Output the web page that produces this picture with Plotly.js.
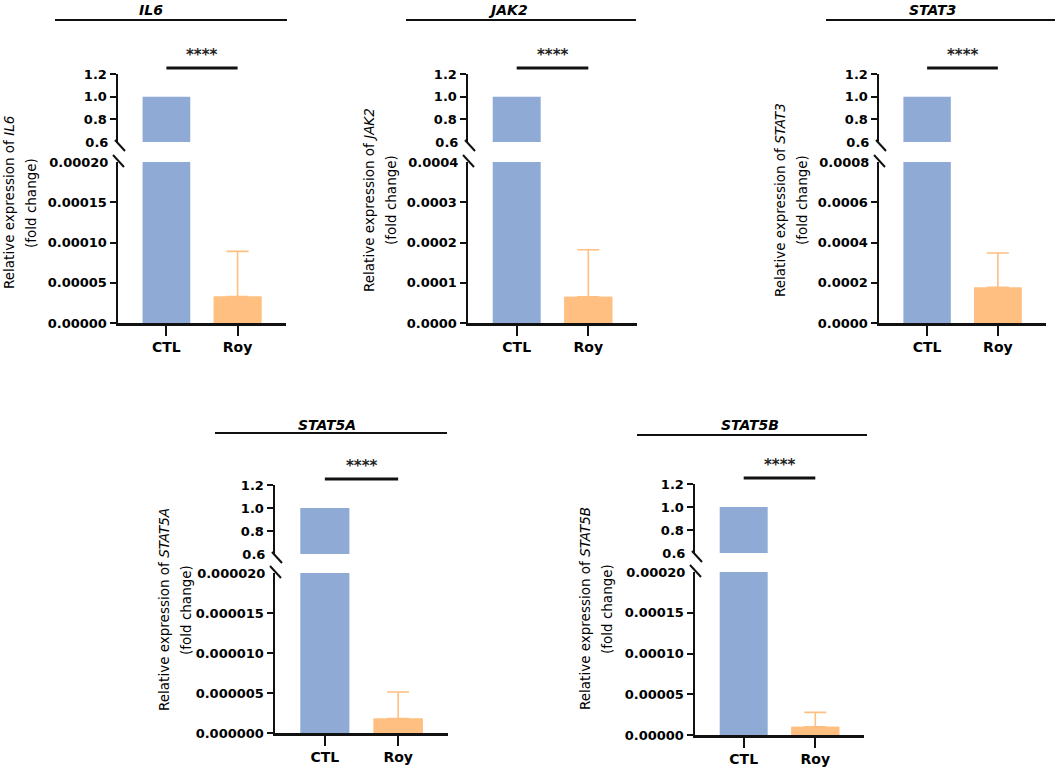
<!DOCTYPE html>
<html>
<head>
<meta charset="utf-8">
<script src="https://cdn.plot.ly/plotly-3.0.1.min.js"></script>
<style>html,body{margin:0;padding:0;background:#fff;}#chart{width:1059px;height:771px;}</style>
</head>
<body>
<div id="chart"></div>
<script>
// ---- data ----
const genes = ['IL6', 'JAK2', 'STAT3', 'STAT5A', 'STAT5B'];
const groups = ['CTL', 'Roy'];
const ctlMean = [1, 1, 1, 1, 1];
const royMean = [0.000033, 0.000065, 0.000177, 0.00000182, 0.0000102];
const royErr = [0.000056, 0.000117, 0.000171, 0.0000033, 0.0000175];
const lowMax = [0.0002, 0.0004, 0.0008, 0.00002, 0.0002];
const lowStep = [0.00005, 0.0001, 0.0002, 0.000005, 0.00005];
const lowFormat = ['.5f', '.4f', '.4f', '.6f', '.5f'];
const highTicks = [0.8, 1.0, 1.2];
const highRange = [0.6, 1.2];
const sigText = ['****', '****', '****', '****', '****'];

// ---- layout geometry (pixels) ----
const W = 1059, H = 771;
const px = v => v / W;
const py = v => 1 - v / H;
const geom = [
  {xl:118, xr:286, t:74,  m1:142, m2:162, b:323, lab:20,  labY:203, tx:151, ty:10,  l0:55,  l1:287,  ly:20},
  {xl:468, xr:637, t:74,  m1:142, m2:162, b:323, lab:380, labY:200, tx:508, ty:10,  l0:406, l1:636,  ly:20},
  {xl:879, xr:1046,t:74,  m1:142, m2:162, b:323, lab:791, labY:200, tx:932, ty:10,  l0:826, l1:1055, ly:20},
  {xl:275, xr:448, t:485, m1:554, m2:573, b:733, lab:175, labY:610, tx:327, ty:425, l0:215, l1:447,  ly:433},
  {xl:695, xr:864, t:484, m1:553, m2:572, b:735, lab:596, labY:609, tx:750, ty:425, l0:637, l1:867,  ly:435}
];

const BLUE = 'rgb(143,170,212)';
const ORANGE = 'rgb(254,191,128)';
const tickFont = {family: 'DejaVu Sans', size: 13, color: '#000', weight: 'bold'};
const catFont = {family: 'DejaVu Sans', size: 14, color: '#000', weight: 'bold'};

const axId = (p, n) => n === 1 ? p : p + n;
const axKey = (p, n) => p + 'axis' + (n === 1 ? '' : n);

const data = [];
const layout = {
  width: W, height: H,
  margin: {l: 0, r: 0, t: 0, b: 0},
  paper_bgcolor: '#fff', plot_bgcolor: 'rgba(0,0,0,0)',
  showlegend: false,
  barmode: 'overlay',
  shapes: [], annotations: []
};

genes.forEach((g, i) => {
  const G = geom[i];
  const xn = i + 1;
  const yLow = 4 * i + 1, yHigh = 4 * i + 2, yLowLab = 4 * i + 3, yHighLab = 4 * i + 4;
  const xid = axId('x', xn);
  const xDom = [px(G.xl), px(G.xr)];
  const lowDom = [py(G.b), py(G.m2)];
  const highDom = [py(G.m1), py(G.t)];

  layout[axKey('x', xn)] = {
    domain: xDom, anchor: axId('y', yLow), type: 'category',
    categoryorder: 'array', categoryarray: groups,
    range: [-0.68, 1.68], showline: true, linewidth: 2.5, linecolor: '#111',
    ticks: 'outside', ticklen: 10, tickwidth: 2, tickcolor: '#111',
    showgrid: false, zeroline: false, tickfont: catFont, fixedrange: true
  };
  const yCommon = {
    anchor: xid, side: 'left', showgrid: false, zeroline: false,
    ticks: 'outside', ticklen: 6, tickwidth: 2, fixedrange: true, tickfont: tickFont
  };
  const lowTickVals = [];
  for (let k = 0; k * lowStep[i] < lowMax[i] * 0.999; k++) lowTickVals.push(k * lowStep[i]);
  layout[axKey('y', yLow)] = Object.assign({}, yCommon, {
    domain: lowDom, range: [0, lowMax[i]], tickmode: 'array', tickvals: lowTickVals,
    tickformat: lowFormat[i], showline: true, linewidth: 2.5, linecolor: '#111', tickcolor: '#111'
  });
  // label at the break (max of lower segment), tick hidden
  layout[axKey('y', yLowLab)] = Object.assign({}, yCommon, {
    overlaying: axId('y', yLow), range: [0, lowMax[i]], tickmode: 'array', tickvals: [lowMax[i]],
    tickformat: lowFormat[i], showline: false, tickcolor: 'rgba(0,0,0,0)'
  });
  layout[axKey('y', yHigh)] = Object.assign({}, yCommon, {
    domain: highDom, range: highRange, tickmode: 'array', tickvals: highTicks,
    tickformat: '.1f', showline: true, linewidth: 2.5, linecolor: '#111', tickcolor: '#111'
  });
  layout[axKey('y', yHighLab)] = Object.assign({}, yCommon, {
    overlaying: axId('y', yHigh), range: highRange, tickmode: 'array', tickvals: [highRange[0]],
    tickformat: '.1f', showline: false, tickcolor: 'rgba(0,0,0,0)'
  });

  // bars: lower segment
  data.push({type: 'bar', x: [groups[0]], y: [ctlMean[i]], xaxis: xid, yaxis: axId('y', yLow),
    width: 0.67, marker: {color: BLUE, line: {width: 0}}, hoverinfo: 'skip'});
  data.push({type: 'bar', x: [groups[1]], y: [royMean[i]], xaxis: xid, yaxis: axId('y', yLow),
    width: 0.67, marker: {color: ORANGE, line: {width: 0}}, hoverinfo: 'skip',
    error_y: {type: 'data', symmetric: false, array: [royErr[i]], arrayminus: [0],
      color: ORANGE, thickness: 1.6, width: 11}});
  // same bar drawn again on top to hide the lower error cap
  data.push({type: 'bar', x: [groups[1]], y: [royMean[i]], xaxis: xid, yaxis: axId('y', yLow),
    width: 0.67, marker: {color: ORANGE, line: {width: 0}}, hoverinfo: 'skip'});
  // bars: upper segment
  data.push({type: 'bar', x: [groups[0]], y: [ctlMean[i]], xaxis: xid, yaxis: axId('y', yHigh),
    width: 0.67, marker: {color: BLUE, line: {width: 0}}, hoverinfo: 'skip'});
  data.push({type: 'bar', x: [groups[1]], y: [royMean[i]], xaxis: xid, yaxis: axId('y', yHigh),
    width: 0.67, marker: {color: ORANGE, line: {width: 0}}, hoverinfo: 'skip'});
  // empty traces so the overlay label axes render
  data.push({type: 'scatter', x: [], y: [], xaxis: xid, yaxis: axId('y', yLowLab), hoverinfo: 'skip'});
  data.push({type: 'scatter', x: [], y: [], xaxis: xid, yaxis: axId('y', yHighLab), hoverinfo: 'skip'});

  // break marks
  layout.shapes.push({type: 'line', xref: 'paper', yref: 'paper',
    x0: px(G.xl - 3), y0: py(G.m1 - 2), x1: px(G.xl + 7), y1: py(G.m1 + 9),
    line: {color: '#111', width: 2}});
  layout.shapes.push({type: 'line', xref: 'paper', yref: 'paper',
    x0: px(G.xl - 5), y0: py(G.m2 - 7), x1: px(G.xl + 6), y1: py(G.m2 + 5),
    line: {color: '#111', width: 2}});
  // significance bar between group centres
  layout.shapes.push({type: 'line', xref: xid, yref: 'paper',
    x0: groups[0], x1: groups[1], y0: py(G.t - 6), y1: py(G.t - 6),
    line: {color: '#111', width: 3}});
  layout.annotations.push({xref: xid, yref: 'paper', x: 0.5, y: py(G.t - 19),
    text: sigText[i], showarrow: false, xanchor: 'center', yanchor: 'middle',
    font: {family: 'DejaVu Sans', size: 15, color: '#222', weight: 'bold'}});
  // gene title and rule
  layout.annotations.push({xref: 'paper', yref: 'paper', x: px(G.tx), y: py(G.ty),
    text: '<b><i>' + g + '</i></b>', showarrow: false, xanchor: 'center', yanchor: 'middle',
    font: {family: 'DejaVu Sans', size: 14, color: '#000'}});
  layout.shapes.push({type: 'line', xref: 'paper', yref: 'paper',
    x0: px(G.l0), x1: px(G.l1), y0: py(G.ly), y1: py(G.ly), line: {color: '#111', width: 1.8}});
  // y-axis title (two lines)
  layout.annotations.push({xref: 'paper', yref: 'paper', x: px(G.lab - 11), y: py(G.labY),
    text: 'Relative expression of <i>' + g + '</i>', textangle: -90, showarrow: false,
    xanchor: 'center', yanchor: 'middle',
    font: {family: 'DejaVu Sans', size: 13.5, color: '#000'}});
  layout.annotations.push({xref: 'paper', yref: 'paper', x: px(G.lab + 11), y: py(G.labY),
    text: '(fold change)', textangle: -90, showarrow: false,
    xanchor: 'center', yanchor: 'middle',
    font: {family: 'DejaVu Sans', size: 13.5, color: '#000'}});
});

Plotly.newPlot('chart', data, layout, {displayModeBar: false, staticPlot: true});
</script>
</body>
</html>
